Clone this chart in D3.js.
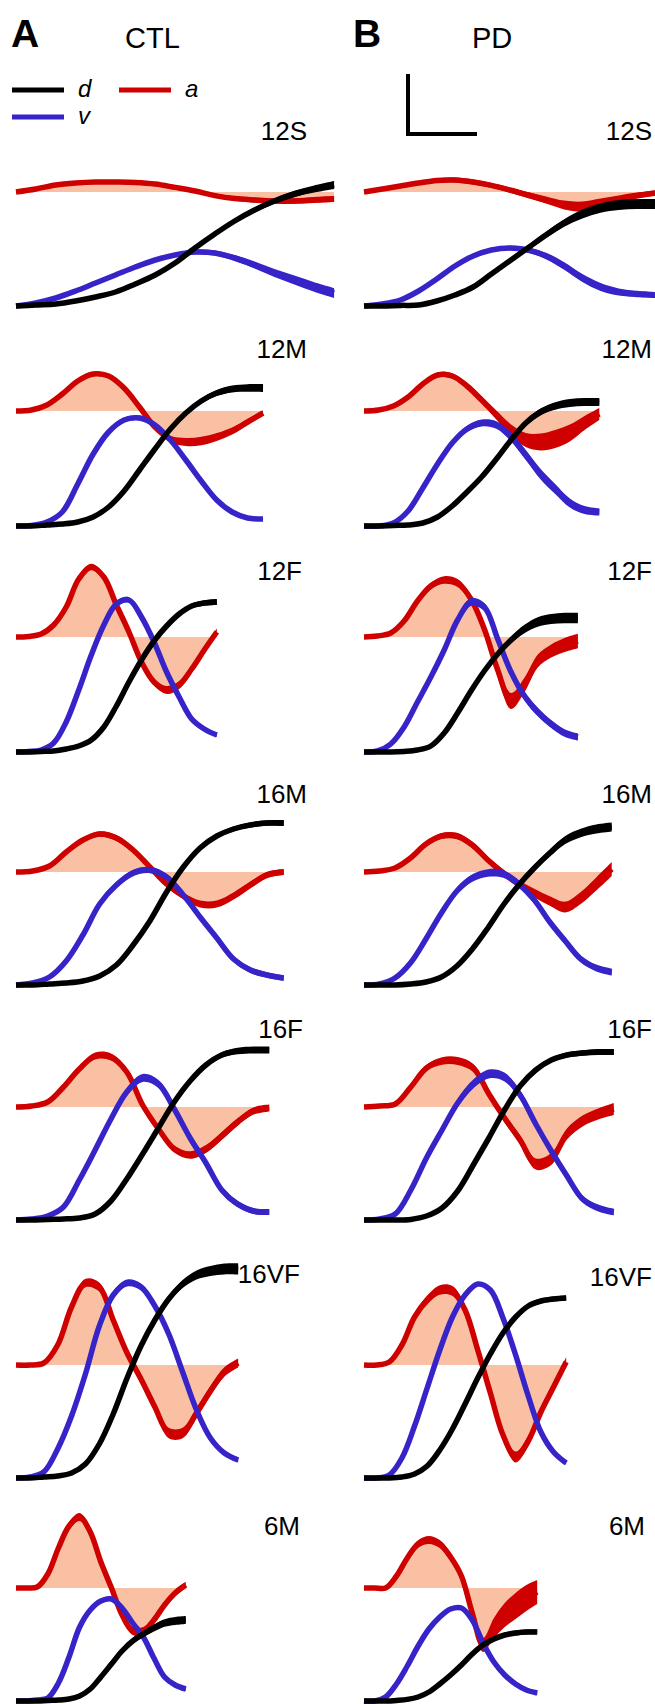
<!DOCTYPE html>
<html>
<head>
<meta charset="utf-8">
<script src="https://cdn.jsdelivr.net/npm/d3@7"></script>
<style>
  html, body { margin: 0; padding: 0; background: #fff; }
  svg { display: block; }
  text { font-family: "Liberation Sans", Arial, Helvetica, sans-serif; fill: #000; }
</style>
</head>
<body>
<svg id="fig" width="655" height="1704"></svg>
<script>
// Movement conditions (target distance + speed) and subject groups
const conditions = ["12S", "12M", "12F", "16M", "16F", "16VF", "6M"];
const groups = ["CTL", "PD"];

// Movement durations (ms) per condition
const durationCTL = [461, 358, 291, 388, 367, 322, 246];
const durationPD  = [422, 341, 310, 359, 362, 293, 251];

// Group-mean profiles, 17 equally spaced samples over each movement (a.u.)
const dispCTL = [
  [0,0.5,1,2.5,4.5,7,11,15.5,21.5,29,36,42.5,48,52.5,56,58.5,60.5],
  [0,0,0.5,1,2,4.5,9.5,17.5,28,38.5,48.5,56.5,62.5,66.5,68.5,69,69],
  [0,0,0.3,0.5,1.5,3,6,12.5,23,35,46,55.5,63,69,73,74.5,75],
  [0,0,0.5,1,2,4.5,10,20,32,46.5,59,68.5,74.5,78,80,81,81],
  [0,0,0.3,0.5,1,3,9.5,20.5,33,46,59,69.5,77.5,82.5,84.5,85,85],
  [0,0,0.5,1,2.5,7,17,32,50,66,79,89.5,97,101.5,103.5,104.5,104.5],
  [0,0,0,0.3,0.5,1,2.5,6,12,18.5,25,30,33.5,36.5,39,40,40.5]
];
const dispPD = [
  [0,0,0.3,0.5,2.5,5.5,9.5,16,22.5,29,35.5,41.5,46,49,50.5,51,51],
  [0,0,0.3,0.5,1.5,4.5,10,17,24.5,33.5,43,51.5,57,60,61.5,62,62],
  [0,0,0,0.3,1,3,9.5,19.5,30.5,40.5,49,56,61.5,65,66.5,67,67],
  [0,0,0,0.5,1.5,4,9.5,18,28.5,40,50,58.5,66,72.5,76,78,79],
  [0,0,0,0.3,2,6,14.5,27.5,41,55,67,75,80,82.5,83.5,84,84],
  [0,0,0,0.5,2,6,14,24.5,37,50,62,72.5,80.5,86,88.5,89.5,90],
  [0,0,0,0.3,0.8,2,4.5,8.5,13,18,23.5,28,31,33,34,34.5,34.5]
];
const velCTL = [
  [0,1.5,4,7.5,11.5,15.5,19.5,23,25.5,27,26.5,24,20.5,16.5,13,9.5,6.5],
  [0,0.3,2,7,21,36,47,53,54,50.5,43,33,22.5,13,7,4,3.5],
  [0,0.3,1,4.5,15,31,48.5,63.5,74,76,67.5,55,40,27.5,16.5,11.5,8.5],
  [0,1,4,12,25,40.5,50,56,57.5,54,45,34,23.5,13,7.5,5,3.5],
  [0,0.5,2,6.5,20,35,50.5,64,71,68,55.5,41,28.5,15,8,4.5,4],
  [0,0.5,3,14.5,31,52,76,91.5,97.5,95.5,86,72,53,34,20,12.5,9],
  [0,0,0.5,1.5,9,22,37,45.5,50,51,46.5,39,32,21.5,12,8,6]
];
const velPD = [
  [0,1,3,7.5,13.5,20,25,28,29,28,25,20,14,9.5,7,6,5.5],
  [0,0,1.5,7.5,19,31,41.5,48.5,51.5,50.5,44.5,35.5,26,18.5,11.5,8,7],
  [0,0.5,4,12.5,25,37.5,51,66,75,72.5,56.5,40,28,20,14,9.5,7.5],
  [0,0.5,3.5,11,23,36,47,53.5,56,55.5,50.5,42.5,31.5,22,13,8.5,6.5],
  [0,0.5,3,15,31,45,58.5,68,73,71.5,62.5,48,34.5,22,10.5,6,4],
  [0,0,1.5,10,26,45,64,80.5,91.5,97,94,80,61.5,41,23,13,7.5],
  [0,0,2,8.5,17.5,27.5,36,42,46,46.5,40.5,29,19.5,13,8.5,5.5,4]
];
const accCTL = [
  [0,1.5,3.5,4.5,5,5,4.8,4,2.3,0.5,-1.8,-3.3,-4,-4.5,-4.5,-4,-3.5],
  [0,0.5,3,8.5,15,18.5,17.5,11.5,2,-8,-14,-15.5,-15,-13,-10,-5.5,-1],
  [0,0.3,1.5,6,15,29,35,30,16,2.5,-12.5,-22.5,-26.5,-24,-16,-6.5,2.5],
  [0,0.5,3,10,16,19,17,11,2.5,-6,-12,-16,-16,-12,-6.5,-1.5,0],
  [0,0.5,2.5,10,19,25.5,25,17.5,1,-11,-21,-24,-21,-14.5,-7.5,-2,-0.5],
  [0,0,1,10,29,41,39,22.5,6,-7,-21,-34,-34,-24,-13,-3.5,1],
  [0,0,0.5,7,20,31,35.5,28,13,0,-13.5,-21.5,-21.5,-16,-8.5,-2.5,1.5]
];
const accPD = [
  [0,1.5,3,4.5,5.8,6,5,3.3,1,-1.5,-4,-6.5,-7.3,-5.5,-3.5,-1.8,-0.5],
  [0,0.5,2.5,7,13.5,18,17.5,12.5,5.5,-2,-9.5,-14.5,-15.5,-14,-11,-6,-1.5],
  [0,0.5,2,8,18,25.5,28.5,27,19,4,-16.5,-32,-24,-12,-7,-4,-2],
  [0,0.5,2,7,14,18,18,13.5,6,-0.5,-6,-10.5,-14.5,-17.5,-13,-6,1.5],
  [0,0.5,1.5,10,19.5,23,23,19.5,6.5,-5.5,-16.5,-28.5,-26,-13.5,-7,-3.5,-1],
  [0,0,1.5,10,24,32.5,37.5,37,27.5,7.5,-14,-35,-46,-38,-23.5,-11,1.5],
  [0,0,0,6,15,22,24,22,15.5,6,-12.5,-28.5,-20,-13.5,-9,-5,-2]
];

// Standard errors of the same profiles (a.u.)
const seDispCTL = [
  [0.3,0.3,0.3,0.3,0.4,0.5,0.6,0.7,0.8,0.9,1,1.1,1.3,1.4,1.6,1.8,2],
  [0.3,0.3,0.3,0.3,0.4,0.5,0.6,0.7,0.8,0.9,1,1.1,1.3,1.5,1.7,1.9,2],
  [0.3,0.3,0.3,0.3,0.3,0.4,0.5,0.6,0.7,0.8,0.9,1,1.1,1.2,1.3,1.4,1.5],
  [0.3,0.3,0.3,0.3,0.3,0.4,0.5,0.6,0.7,0.8,0.9,1,1.1,1.2,1.3,1.4,1.5],
  [0.3,0.3,0.3,0.3,0.3,0.4,0.5,0.6,0.7,0.8,0.9,1,1.2,1.4,1.6,1.7,1.8],
  [0.3,0.3,0.3,0.3,0.4,0.5,0.6,0.8,1,1.2,1.4,1.7,2,2.3,2.5,2.7,2.8],
  [0.3,0.3,0.3,0.3,0.3,0.4,0.5,0.6,0.8,1,1.2,1.4,1.6,1.8,1.9,2,2]
];
const seDispPD = [
  [0.3,0.3,0.3,0.3,0.4,0.5,0.7,0.9,1.1,1.3,1.6,1.9,2.2,2.4,2.5,2.5,2.5],
  [0.3,0.3,0.3,0.3,0.4,0.5,0.6,0.7,0.9,1.1,1.3,1.5,1.7,1.9,2,2,2],
  [0.3,0.3,0.3,0.3,0.4,0.5,0.7,0.9,1.1,1.3,1.5,1.8,2.1,2.4,2.5,2.6,2.6],
  [0.3,0.3,0.3,0.3,0.4,0.5,0.6,0.8,1,1.2,1.4,1.6,1.8,2,2.1,2.2,2.2],
  [0.3,0.3,0.3,0.3,0.4,0.5,0.6,0.7,0.8,0.9,1,1.1,1.2,1.3,1.4,1.5,1.5],
  [0.3,0.3,0.3,0.3,0.4,0.5,0.6,0.7,0.8,0.9,1,1,1.1,1.1,1.2,1.2,1.2],
  [0.3,0.3,0.3,0.3,0.4,0.5,0.6,0.7,0.8,0.9,1,1,1.1,1.1,1.2,1.2,1.2]
];
const seVelCTL = [
  [0.3,0.4,0.5,0.6,0.7,0.8,0.9,1,1,1.1,1.3,1.5,1.8,2,2.2,2.4,2.5],
  [0.3,0.4,0.6,0.8,1,1.1,1.2,1.2,1.2,1.2,1.3,1.3,1.3,1.2,1.1,1,1],
  [0.3,0.4,0.6,0.8,1,1.2,1.3,1.4,1.4,1.4,1.4,1.4,1.4,1.3,1.2,1.1,1],
  [0.3,0.5,0.8,1.1,1.4,1.5,1.6,1.6,1.6,1.6,1.6,1.6,1.6,1.5,1.5,1.4,1.4],
  [0.3,0.5,0.8,1.1,1.4,1.6,1.8,2,2,2,2,1.9,1.8,1.7,1.6,1.5,1.5],
  [0.3,0.5,0.8,1.1,1.3,1.5,1.6,1.7,1.7,1.7,1.7,1.7,1.6,1.5,1.4,1.3,1.3],
  [0.3,0.4,0.6,0.8,1,1.1,1.2,1.2,1.2,1.2,1.2,1.2,1.2,1.1,1.1,1,1]
];
const seVelPD = [
  [0.3,0.4,0.6,0.8,1,1,1,1,1.1,1.3,1.6,1.9,2,2,1.8,1.6,1.5],
  [0.3,0.4,0.6,0.9,1.2,1.4,1.5,1.6,1.7,1.9,2.2,2.5,2.6,2.5,2.3,2,1.8],
  [0.3,0.5,0.8,1.1,1.4,1.6,1.8,2,2,2,2.1,2.2,2.2,2.1,2,1.9,1.8],
  [0.3,0.5,0.8,1.1,1.4,1.6,1.8,1.9,1.9,1.9,1.9,1.9,1.9,1.8,1.8,1.7,1.7],
  [0.3,0.5,0.8,1.2,1.6,1.9,2.1,2.2,2.2,2.2,2.2,2.1,2,1.9,1.8,1.7,1.6],
  [0.3,0.4,0.5,0.6,0.7,0.8,0.9,0.9,0.9,0.9,0.9,0.9,0.9,0.9,0.9,0.9,0.9],
  [0.3,0.4,0.5,0.7,0.8,0.9,1,1,1,1,1,1,1,1,1,1,1]
];
const seAccCTL = [
  [0.6,0.7,0.8,0.9,1,1,1,1,1,1,1,1.1,1.2,1.3,1.4,1.5,1.5],
  [0.5,0.5,0.6,0.8,1,1.1,1.1,1.1,1.1,1.3,1.6,2,2.1,2,1.8,1.5,1.3],
  [0.5,0.6,0.8,1,1.3,1.5,1.6,1.6,1.6,1.6,1.7,1.8,2,2,1.9,1.8,1.7],
  [0.5,0.6,0.8,1,1.2,1.4,1.5,1.5,1.5,1.5,1.6,1.7,1.8,1.8,1.7,1.6,1.5],
  [0.5,0.6,0.8,1.1,1.4,1.7,1.8,1.8,1.8,1.8,1.8,1.9,2,2,1.9,1.8,1.7],
  [0.5,0.7,1,1.4,1.8,2.1,2.3,2.4,2.4,2.4,2.5,2.6,2.6,2.6,2.5,2.4,2.3],
  [0.5,0.6,0.8,1.2,1.6,1.9,2,2,2,2,2,2,2,1.9,1.8,1.7,1.6]
];
const seAccPD = [
  [0.6,0.7,0.8,1,1.1,1.2,1.2,1.2,1.3,1.5,1.8,2.2,2.5,2.2,1.8,1.5,1.3],
  [0.5,0.6,0.8,1,1.2,1.3,1.4,1.6,1.8,2.2,2.8,3.5,4.2,4.5,4.2,3.5,3],
  [0.5,0.6,0.8,1.1,1.4,1.7,1.9,2,2,2.4,3.2,4,3.6,3.2,3.3,3.5,3.6],
  [0.5,0.6,0.8,1,1.3,1.5,1.6,1.6,1.6,1.7,1.9,2.1,2.4,2.7,3,3.3,3.5],
  [0.5,0.6,0.8,1.2,1.6,1.9,2,2,2,2.1,2.4,2.8,3,2.8,2.7,2.8,3],
  [0.5,0.6,0.9,1.3,1.8,2.2,2.4,2.5,2.5,2.5,2.5,2.6,2.7,2.6,2.5,2.4,2.4],
  [0.5,0.6,0.8,1.2,1.6,1.9,2,2,2,2.2,2.8,3.5,5,6,6.5,6.5,6]
];

// Scale bar: 100 ms horizontally, 30 a.u. vertically
const scaleBarMs = 100;
const scaleBarUnits = 30;

const legendItems = ["d", "v", "a"];
const panelLetters = ["A", "B"];

// ---------- layout ----------
const colors = { d: "#000000", v: "#3624c8", a: "#cf0000", fill: "#f9c0a3" };
const colX = [16, 364];
const rowDispBase = [306, 526, 752, 985, 1220, 1478, 1701];
const rowAccBase  = [192, 411, 637, 872, 1107, 1365, 1588];
const labelY = [[140, 358, 580, 803, 1038, 1283, 1535], [140, 358, 580, 803, 1038, 1286, 1535]];
const labelX = [[307, 307, 302, 307, 303, 300, 300], [652, 652, 652, 652, 652, 652, 645]];
const traceWidth = 5.5;

const svg = d3.select("#fig");

// shared physical scales (pixels per ms, pixels per a.u.)
const tLen = d3.scaleLinear().domain([0, 100]).range([0, 69]);
const uLen = d3.scaleLinear().domain([0, 30]).range([0, 60]);

const nSamples = dispCTL[0].length;
const curve = d3.curveCatmullRom.alpha(0.5);

const data = {
  CTL: { dur: durationCTL, d: dispCTL, v: velCTL, a: accCTL, sd: seDispCTL, sv: seVelCTL, sa: seAccCTL },
  PD:  { dur: durationPD,  d: dispPD,  v: velPD,  a: accPD,  sd: seDispPD,  sv: seVelPD,  sa: seAccPD }
};

// mean trace with its ±SE band
function drawTrace(g, x, y, times, mean, se, color) {
  const pts = mean.map((m, i) => ({ t: times[i], m, s: se[i] }));
  g.append("path")
    .datum(pts)
    .attr("fill", color)
    .attr("d", d3.area().curve(curve)
      .x(p => x(p.t))
      .y0(p => y(p.m - p.s))
      .y1(p => y(p.m + p.s)));
  g.append("path")
    .datum(pts)
    .attr("fill", "none")
    .attr("stroke", color)
    .attr("stroke-width", traceWidth)
    .attr("stroke-linecap", "butt")
    .attr("d", d3.line().curve(curve)
      .x(p => x(p.t))
      .y(p => y(p.m)));
}

groups.forEach((grp, gi) => {
  const gd = data[grp];
  conditions.forEach((cond, ci) => {
    const dur = gd.dur[ci];
    const x0 = colX[gi];
    const x = d3.scaleLinear().domain([0, dur]).range([x0, x0 + tLen(dur)]);
    const dBase = rowDispBase[ci], aBase = rowAccBase[ci];
    const yDV = d3.scaleLinear().domain([0, 30]).range([dBase, dBase - uLen(30)]);
    const yA  = d3.scaleLinear().domain([0, 30]).range([aBase, aBase - uLen(30)]);
    const times = d3.range(nSamples).map(i => i * dur / (nSamples - 1));

    const g = svg.append("g").attr("class", `panel ${grp}-${cond}`);

    // shaded area between acceleration and zero
    const accPts = gd.a[ci].map((m, i) => ({ t: times[i], m }));
    g.append("path")
      .datum(accPts)
      .attr("fill", colors.fill)
      .attr("d", d3.area().curve(curve)
        .x(p => x(p.t))
        .y0(yA(0))
        .y1(p => yA(p.m)));

    drawTrace(g, x, yA, times, gd.a[ci], gd.sa[ci], colors.a);
    drawTrace(g, x, yDV, times, gd.v[ci], gd.sv[ci], colors.v);
    drawTrace(g, x, yDV, times, gd.d[ci], gd.sd[ci], colors.d);

    svg.append("text")
      .attr("x", labelX[gi][ci])
      .attr("y", labelY[gi][ci])
      .attr("text-anchor", "end")
      .attr("font-size", 26)
      .text(cond);
  });
});

// panel letters and group titles
svg.append("text").attr("x", 11).attr("y", 47).attr("font-size", 39).attr("font-weight", "bold").text(panelLetters[0]);
svg.append("text").attr("x", 353).attr("y", 47).attr("font-size", 39).attr("font-weight", "bold").text(panelLetters[1]);
svg.append("text").attr("x", 125).attr("y", 48).attr("font-size", 29).text(groups[0]);
svg.append("text").attr("x", 472).attr("y", 48).attr("font-size", 29).text(groups[1]);

// legend
const legendPos = { d: [12, 90], v: [12, 117], a: [119, 90] };
legendItems.forEach(k => {
  const [lx, ly] = legendPos[k];
  svg.append("line")
    .attr("x1", lx).attr("x2", lx + 52)
    .attr("y1", ly).attr("y2", ly)
    .attr("stroke", colors[k]).attr("stroke-width", 5);
  svg.append("text")
    .attr("x", lx + 66).attr("y", ly + 7)
    .attr("font-size", 24).attr("font-style", "italic")
    .text(k);
});

// scale bar
const sbX = 408, sbY = 134;
svg.append("path")
  .attr("fill", "none")
  .attr("stroke", "#000")
  .attr("stroke-width", 4)
  .attr("stroke-linejoin", "miter")
  .attr("d", `M${sbX},${sbY - uLen(scaleBarUnits)}V${sbY}H${sbX + tLen(scaleBarMs)}`);
</script>
</body>
</html>
